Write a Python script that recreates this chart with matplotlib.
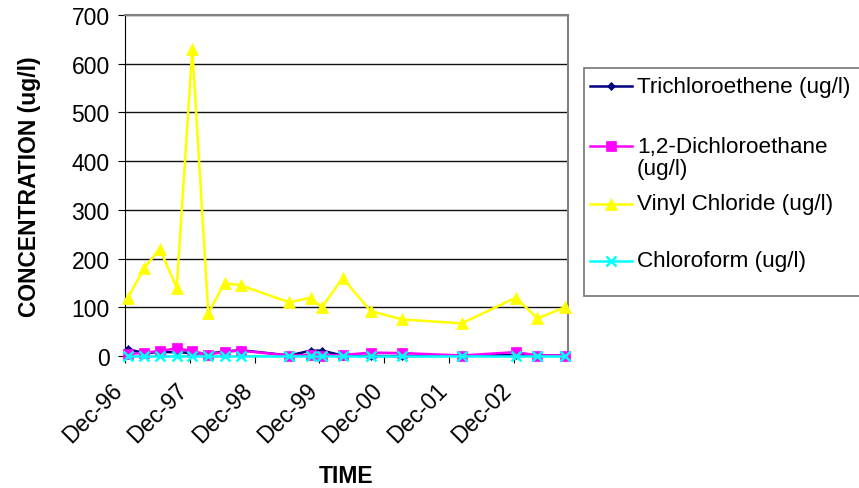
import matplotlib
matplotlib.use("Agg")
import matplotlib.pyplot as plt
import matplotlib.dates as mdates
import matplotlib.transforms as mtransforms
from matplotlib.lines import Line2D
from matplotlib.patches import Rectangle
import numpy as np
from datetime import date

plt.rcParams["font.family"] = ["Liberation Sans", "DejaVu Sans"]

sample_dates = [
    "1996-12-18", "1997-03-18", "1997-06-15", "1997-09-18", "1997-12-15",
    "1998-03-15", "1998-06-15", "1998-09-15", "1999-06-15", "1999-10-12",
    "1999-12-15", "2000-04-10", "2000-09-15", "2001-03-12", "2002-02-10",
    "2002-12-12", "2003-04-12", "2003-09-12",
]
trichloroethene = [14, 6, 8, 8, 6, 5, 9, 12, 1, 11, 11, 1, 0, 0, 1, 2, 1, 1]
dichloroethane = [4, 7, 10, 16, 10, 3, 9, 11, 1, 2, 1, 2, 7, 6, 1, 8, 1, 1]
vinyl_chloride = [120, 180, 220, 140, 630, 88, 150, 145, 110, 120, 100, 160,
                  92, 75, 67, 120, 77, 100]
chloroform = [0.5] * 18

tick_years = [1996, 1997, 1998, 1999, 2000, 2001, 2002]
tick_labels = ["Dec-96", "Dec-97", "Dec-98", "Dec-99", "Dec-00", "Dec-01", "Dec-02"]

W, H = 859, 489
x = [mdates.date2num(date.fromisoformat(d)) for d in sample_dates]

fig = plt.figure(figsize=(W / 100, H / 100), dpi=100)
ax = fig.add_axes([125 / W, 1 - 357 / H, 443 / W, 341 / H])

# label lines, values, colour, marker, marker size
series = [
    (["Trichloroethene (ug/l)"], trichloroethene, "#000080", "D", 4.5),
    (["1,2-Dichloroethane", "(ug/l)"], dichloroethane, "#FF00FF", "s", 7),
    (["Vinyl Chloride (ug/l)"], vinyl_chloride, "#FFFF00", "^", 8),
    (["Chloroform (ug/l)"], chloroform, "#00FFFF", "x", 7),
]
for label, vals, color, marker, ms in series:
    ax.plot(x, vals, color=color, marker=marker, markersize=ms, linewidth=1.8,
            markeredgewidth=1.8 if marker == "x" else 0.5,
            markeredgecolor=color, clip_on=False, zorder=3)

ax.set_xlim(mdates.date2num(date(1996, 12, 1)), mdates.date2num(date(2003, 10, 1)))
ax.set_ylim(0, 700)
ax.set_yticks(np.arange(0, 701, 100))
ax.yaxis.grid(True, color="#111111", linewidth=1)
ax.set_axisbelow(True)

ax.set_xticks([mdates.date2num(date(y, 12, 1)) for y in tick_years])
ax.set_xticklabels(tick_labels, rotation=45, ha="right", va="top",
                   rotation_mode="anchor")
ax.tick_params(axis="both", direction="out", length=5, labelsize=16.5, color="black")
ax.tick_params(axis="y", pad=6)
ax.tick_params(axis="x", pad=14)
shift = mtransforms.ScaledTranslation(-0.14, 0.04, fig.dpi_scale_trans)
for lab in ax.get_xticklabels():
    lab.set_transform(lab.get_transform() + shift)

for side in ("top", "right"):
    ax.spines[side].set_color("#808080")
    ax.spines[side].set_linewidth(1.5)
ax.spines["left"].set_color("black")
ax.spines["bottom"].set_color("black")

ax.set_ylabel("CONCENTRATION (ug/l)", fontsize=16.5, fontweight="bold", labelpad=22)
ax.set_xlabel("TIME", fontsize=16.5, fontweight="bold")
ax.xaxis.set_label_coords(0.5, -0.318)

# legend box drawn like the spreadsheet one, running off the right edge
fig.patches.append(Rectangle((584 / W, 1 - 297 / H), 300 / W, 228 / H,
                             transform=fig.transFigure, facecolor="white",
                             edgecolor="#808080", linewidth=1.3))
entry_y = [87, 147, 205, 262]
for (label, vals, color, marker, ms), ey in zip(series, entry_y):
    fy = 1 - ey / H
    fig.lines.append(Line2D([590 / W, 632 / W], [fy, fy], transform=fig.transFigure,
                            color=color, linewidth=1.8, zorder=5))
    fig.lines.append(Line2D([611 / W], [fy], transform=fig.transFigure, color=color,
                            marker=marker, markersize=ms, markeredgecolor=color,
                            markeredgewidth=1.8 if marker == "x" else 0.5, zorder=6))
    for i, line in enumerate(label):
        fig.text(637 / W, fy - i * 23 / H, line, fontsize=16.2, va="center", ha="left")

fig.savefig("out.png", dpi=100)
